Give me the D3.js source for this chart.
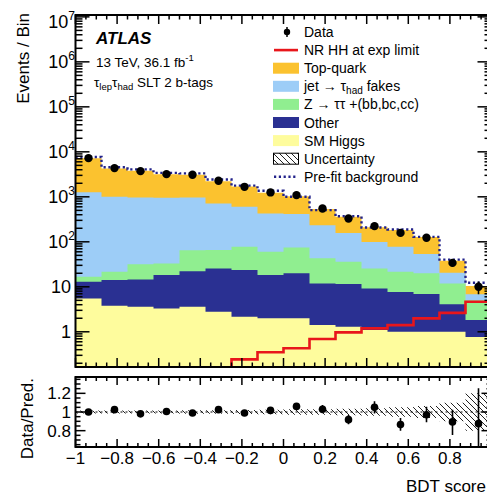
<!DOCTYPE html>
<html><head><meta charset="utf-8">
<script src="https://cdn.jsdelivr.net/npm/d3@7"></script>
<style>
html,body{margin:0;padding:0;background:#fff;overflow:hidden;}
svg{display:block;font-family:"Liberation Sans",Arial,Helvetica,sans-serif;}
</style></head><body>
<svg id="c" width="487" height="496"></svg>
<script>
// ---------------- data ----------------
const binEdges = [-1, -0.875, -0.75, -0.625, -0.5, -0.375, -0.25, -0.125, 0, 0.125, 0.25, 0.375, 0.5, 0.625, 0.75, 0.875, 1];
const smHiggs  = [5.5, 3.8, 3.6, 3.3, 3.6, 2.8, 2.15, 2.0, 2.0, 1.41, 1.3, 1.09, 1.0, 1.0, 1.0, 0.77];
const other    = [7.4, 10.3, 11.0, 14.9, 18.7, 22.8, 21.4, 16.2, 17.9, 10.5, 10.2, 8.1, 6.7, 5.9, 3.1, 1.05];
const zTauTau  = [3.8, 7.4, 17.3, 14.9, 43, 40, 54, 42, 55, 31, 24.4, 16.4, 13.8, 13.0, 7.8, 3.2];
const jetFakes = [1254, 978, 938, 917, 905, 648, 523, 368, 338, 192, 122, 74, 56, 33.4, 8.6, 1.84];
const topQuark = [5970, 3240, 2830, 2230, 2140, 1500, 1085, 805, 617, 301, 202, 112, 106, 74, 17.5, 3.6];
const prefitBkg = [7700, 4530, 4070, 3400, 3320, 2430, 1770, 1360, 1000, 506, 370, 208, 188, 129, 40.2, 12.3];
const nrHH     = [0.02, 0.04, 0.06, 0.09, 0.12, 0.155, 0.244, 0.35, 0.43, 0.69, 0.97, 1.19, 1.41, 1.99, 2.64, 4.64];
const dataEvents = [7240, 4345, 3725, 3194, 3083, 2268, 1668, 1253, 1091, 552, 331, 223, 158, 123, 34, 10];
const dataErr    = [85, 66, 61, 57, 56, 48, 41, 35, 33, 23.5, 18.2, 15, 12.6, 11.1, 5.8, 3.2];
const ratioVals  = [1.0, 1.025, 0.98, 1.005, 0.99, 1.025, 0.99, 1.017, 1.06, 1.03, 0.918, 1.05, 0.865, 0.97, 0.894, 0.875];
const ratioErrUp = [0.012, 0.015, 0.016, 0.018, 0.018, 0.022, 0.025, 0.029, 0.033, 0.044, 0.05, 0.065, 0.07, 0.085, 0.13, 0.38];
const ratioErrDn = [0.012, 0.015, 0.016, 0.018, 0.018, 0.022, 0.025, 0.029, 0.033, 0.044, 0.05, 0.065, 0.065, 0.08, 0.14, 0.3];
const bkgUnc     = [0.015, 0.015, 0.015, 0.015, 0.018, 0.02, 0.022, 0.025, 0.03, 0.03, 0.035, 0.04, 0.05, 0.065, 0.1, 0.2];
const xTickValues = [-1, -0.8, -0.6, -0.4, -0.2, 0, 0.2, 0.4, 0.6, 0.8];
const xTickLabels = ["\u22121", "\u22120.8", "\u22120.6", "\u22120.4", "\u22120.2", "0", "0.2", "0.4", "0.6", "0.8"];
const yExponents = [0, 1, 2, 3, 4, 5, 6, 7];
const ratioTickValues = [0.8, 1, 1.2];
const ratioTickLabels = ["0.8", "1", "1.2"];

const colors = {topQuark:"#fbc22f", jetFakes:"#9dcdf7", zTauTau:"#90ee90", other:"#2a3092", smHiggs:"#fefc9d"};

// ---------------- layout ----------------
const L = 75.5, R = 491.5, mT = 15, mB = 367, rT = 377, rB = 447;
const x = d3.scaleLinear().domain([-1, 1]).range([L, R]);
const yMin = 0.165;
const y = d3.scaleLog().domain([yMin, 1.1e7]).range([mB, mT]);
const yr = d3.scaleLinear().domain([0.625, 1.375]).range([rB, rT]);

const svg = d3.select("#c");
const defs = svg.append("defs");
defs.append("clipPath").attr("id", "clipMain").append("rect")
  .attr("x", L).attr("y", mT).attr("width", R - L).attr("height", mB - mT);
defs.append("clipPath").attr("id", "clipRat").append("rect")
  .attr("x", L).attr("y", rT).attr("width", R - L).attr("height", rB - rT);
const pat = defs.append("pattern").attr("id", "hatch").attr("patternUnits", "userSpaceOnUse")
  .attr("width", 6).attr("height", 6);
pat.append("path").attr("d", "M0,0L6,6M-1,5L1,7M5,-1L7,1").attr("stroke", "#222").attr("stroke-width", 1);

function steps(vals) {
  const pts = [];
  vals.forEach((v, i) => { pts.push([binEdges[i], v]); pts.push([binEdges[i + 1], v]); });
  return pts;
}
const centers = binEdges.slice(0, -1).map((e, i) => (e + binEdges[i + 1]) / 2);

// ---------------- stack ----------------
const keys = ["smHiggs", "other", "zTauTau", "jetFakes", "topQuark"];
const series = {smHiggs, other, zTauTau, jetFakes, topQuark};
const rows = smHiggs.map((_, i) => { const r = {}; keys.forEach(k => r[k] = series[k][i]); return r; });
const stacked = d3.stack().keys(keys)(rows);

const gMain = svg.append("g").attr("clip-path", "url(#clipMain)");
const area = d3.area().x(d => x(d[0])).y0(y(yMin)).y1(d => y(Math.max(d[1], yMin)));
for (let k = stacked.length - 1; k >= 0; k--) {
  const tops = stacked[k].map(d => d[1]);
  gMain.append("path").attr("d", area(steps(tops))).attr("fill", colors[stacked[k].key]).attr("stroke", "none");
}
const line = d3.line().x(d => x(d[0])).y(d => y(Math.max(d[1], yMin * 0.5)));
gMain.append("path").attr("d", line(steps(nrHH))).attr("fill", "none")
  .attr("stroke", "#e8161b").attr("stroke-width", 2.6);
gMain.append("path").attr("d", line(steps(prefitBkg))).attr("fill", "none")
  .attr("stroke", "#22228a").attr("stroke-width", 2.4).attr("stroke-dasharray", "2.2,2.6");
dataEvents.forEach((v, i) => {
  gMain.append("line").attr("x1", x(centers[i])).attr("x2", x(centers[i]))
    .attr("y1", y(v + dataErr[i])).attr("y2", y(v - dataErr[i])).attr("stroke", "#000").attr("stroke-width", 1.6);
  gMain.append("circle").attr("cx", x(centers[i])).attr("cy", y(v)).attr("r", 4.2).attr("fill", "#000");
});

// ---------------- ratio ----------------
const gRat = svg.append("g").attr("clip-path", "url(#clipRat)");
const band = d3.area().x(d => x(d[0])).y0(d => yr(1 - d[1])).y1(d => yr(1 + d[1]));
gRat.append("path").attr("d", band(steps(bkgUnc))).attr("fill", "url(#hatch)").attr("stroke", "none");
gRat.append("line").attr("x1", L).attr("x2", R).attr("y1", yr(1)).attr("y2", yr(1))
  .attr("stroke", "#000").attr("stroke-width", 1).attr("stroke-dasharray", "2,3");
ratioVals.forEach((v, i) => {
  gRat.append("line").attr("x1", x(centers[i])).attr("x2", x(centers[i]))
    .attr("y1", yr(v + ratioErrUp[i])).attr("y2", yr(v - ratioErrDn[i])).attr("stroke", "#000").attr("stroke-width", 1.6);
  gRat.append("circle").attr("cx", x(centers[i])).attr("cy", yr(v)).attr("r", 3.8).attr("fill", "#000");
});

// ---------------- frames & ticks ----------------
const tickG = svg.append("g").attr("stroke", "#000").attr("stroke-width", 1.5);
function tick(x1, y1, x2, y2) { tickG.append("line").attr("x1", x1).attr("y1", y1).attr("x2", x2).attr("y2", y2); }

yExponents.forEach(e => {
  const v = Math.pow(10, e);
  tick(L, y(v), L + 14, y(v)); tick(R, y(v), R - 14, y(v));
});
for (let e = -1; e <= 6; e++) {
  for (let m = 2; m <= 9; m++) {
    const v = m * Math.pow(10, e);
    if (v < yMin || v > 1.1e7) continue;
    tick(L, y(v), L + 7, y(v)); tick(R, y(v), R - 7, y(v));
  }
}
const xMinor = d3.range(-1, 1.0001, 0.05);
xMinor.forEach((v, i) => {
  const major = i % 4 === 0;
  const xm = x(v);
  tick(xm, mB, xm, mB - (major ? 9 : 4.5));
  tick(xm, mT, xm, mT + (major ? 9 : 4.5));
  tick(xm, rB, xm, rB - (major ? 8 : 4));
  tick(xm, rT, xm, rT + (major ? 8 : 4));
});
d3.range(0.65, 1.3501, 0.05).forEach(v => {
  const major = ratioTickValues.some(t => Math.abs(t - v) < 1e-6);
  tick(L, yr(v), L + (major ? 10 : 5), yr(v));
  tick(R, yr(v), R - (major ? 10 : 5), yr(v));
});

svg.append("rect").attr("x", L).attr("y", mT).attr("width", R - L).attr("height", mB - mT)
  .attr("fill", "none").attr("stroke", "#000").attr("stroke-width", 2);
svg.append("rect").attr("x", L).attr("y", rT).attr("width", R - L).attr("height", rB - rT)
  .attr("fill", "none").attr("stroke", "#000").attr("stroke-width", 2);

// ---------------- labels ----------------
const txt = svg.append("g").attr("fill", "#000");
yExponents.forEach(e => {
  const v = Math.pow(10, e);
  const by = Math.max(y(v) + 6.5, 28);
  if (e <= 1) {
    txt.append("text").attr("x", 71).attr("y", by).attr("text-anchor", "end").attr("font-size", 18).text(e === 0 ? "1" : "10");
  } else {
    const t = txt.append("text").attr("x", 75).attr("y", by).attr("text-anchor", "end").attr("font-size", 18);
    t.append("tspan").text("10");
    t.append("tspan").attr("font-size", 12).attr("dy", -8).text(String(e));
  }
});
xTickValues.forEach((v, i) => {
  txt.append("text").attr("x", x(v)).attr("y", 463.5).attr("text-anchor", "middle").attr("font-size", 17).text(xTickLabels[i]);
});
ratioTickValues.forEach((v, i) => {
  txt.append("text").attr("x", 71).attr("y", yr(v) + 6).attr("text-anchor", "end").attr("font-size", 17).text(ratioTickLabels[i]);
});
txt.append("text").attr("transform", "translate(28.5,13) rotate(-90)").attr("text-anchor", "end")
  .attr("font-size", 17).text("Events / Bin");
txt.append("text").attr("transform", "translate(33,378) rotate(-90)").attr("text-anchor", "end")
  .attr("font-size", 17).text("Data/Pred.");
txt.append("text").attr("x", 486).attr("y", 492).attr("text-anchor", "end").attr("font-size", 17).text("BDT score");

txt.append("text").attr("x", 96).attr("y", 43.5).attr("font-size", 17).attr("font-weight", "bold")
  .attr("font-style", "italic").text("ATLAS");
const lumi = txt.append("text").attr("x", 96).attr("y", 66.5).attr("font-size", 13.5);
lumi.append("tspan").text("13 TeV, 36.1 fb");
lumi.append("tspan").attr("font-size", 9.5).attr("dy", -6).text("-1");
const reg = txt.append("text").attr("x", 94).attr("y", 87).attr("font-size", 13.5);
reg.append("tspan").text("\u03c4");
reg.append("tspan").attr("font-size", 9.5).attr("dy", 3).text("lep");
reg.append("tspan").attr("dy", -3).text("\u03c4");
reg.append("tspan").attr("font-size", 9.5).attr("dy", 3).text("had");
reg.append("tspan").attr("dy", -3).text(" SLT 2 b-tags");

// ---------------- legend ----------------
const legRows = [
  {label: ["Data"], type: "data"},
  {label: ["NR HH at exp limit"], type: "red"},
  {label: ["Top-quark"], type: "fill", color: colors.topQuark},
  {label: ["jet \u2192 \u03c4", "had", " fakes"], type: "fill", color: colors.jetFakes},
  {label: ["Z \u2192 \u03c4\u03c4 +(bb,bc,cc)"], type: "fill", color: colors.zTauTau},
  {label: ["Other"], type: "fill", color: colors.other},
  {label: ["SM Higgs"], type: "fill", color: colors.smHiggs},
  {label: ["Uncertainty"], type: "hatch"},
  {label: ["Pre-fit background"], type: "dots"}
];
const lg = svg.append("g");
legRows.forEach((r, i) => {
  const cy = 32 + i * 18.1;
  if (r.type === "data") {
    lg.append("line").attr("x1", 287).attr("x2", 287).attr("y1", cy - 5).attr("y2", cy + 5).attr("stroke", "#000").attr("stroke-width", 1.5);
    lg.append("circle").attr("cx", 287).attr("cy", cy).attr("r", 3.2).attr("fill", "#000");
  } else if (r.type === "red") {
    lg.append("line").attr("x1", 274).attr("x2", 298).attr("y1", cy).attr("y2", cy).attr("stroke", "#e8161b").attr("stroke-width", 2.6);
  } else if (r.type === "fill") {
    lg.append("rect").attr("x", 273).attr("y", cy - 5.5).attr("width", 26).attr("height", 11).attr("fill", r.color);
  } else if (r.type === "hatch") {
    lg.append("rect").attr("x", 273.5).attr("y", cy - 5.5).attr("width", 25).attr("height", 11)
      .attr("fill", "url(#hatch)").attr("stroke", "#000").attr("stroke-width", 1);
  } else if (r.type === "dots") {
    lg.append("line").attr("x1", 274).attr("x2", 298).attr("y1", cy).attr("y2", cy).attr("stroke", "#22228a")
      .attr("stroke-width", 2.4).attr("stroke-dasharray", "2.2,2.6");
  }
  const t = lg.append("text").attr("x", 304).attr("y", cy + 5).attr("font-size", 14);
  t.append("tspan").text(r.label[0]);
  if (r.label.length > 1) {
    t.append("tspan").attr("font-size", 10).attr("dy", 3).text(r.label[1]);
    t.append("tspan").attr("dy", -3).text(r.label[2]);
  }
});
</script>
</body></html>
